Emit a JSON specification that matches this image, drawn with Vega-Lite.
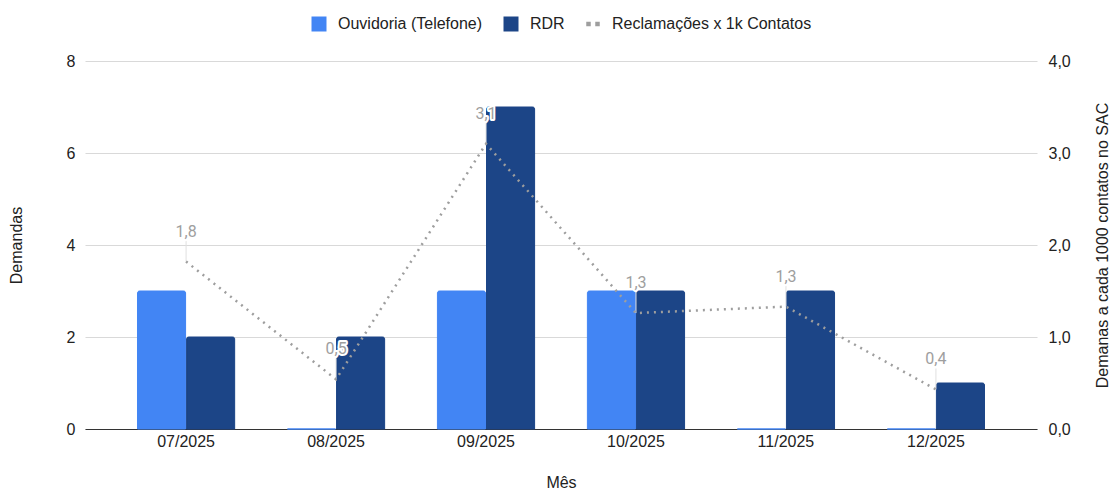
{
  "$schema": "https://vega.github.io/schema/vega-lite/v6.json",
  "width": 952,
  "height": 368,
  "autosize": "none",
  "padding": {"left": 85, "top": 61, "right": 77, "bottom": 61},
  "background": "white",
  "config": {
    "locale": {"number": {"decimal": ",", "thousands": ".", "grouping": [3], "currency": ["R$ ", ""]}},
    "font": "Liberation Sans",
    "view": {"stroke": null},
    "axis": {"labelFont": "Liberation Sans", "titleFont": "Liberation Sans", "labelColor": "#222", "titleColor": "#222", "titleFontWeight": "normal", "labelFontSize": 16, "titleFontSize": 16}
  },
  "datasets": {
    "bars": [
      {"mes": "07/2025", "serie": "Ouvidoria (Telefone)", "valor": 3},
      {"mes": "07/2025", "serie": "RDR", "valor": 2},
      {"mes": "08/2025", "serie": "Ouvidoria (Telefone)", "valor": 0},
      {"mes": "08/2025", "serie": "RDR", "valor": 2},
      {"mes": "09/2025", "serie": "Ouvidoria (Telefone)", "valor": 3},
      {"mes": "09/2025", "serie": "RDR", "valor": 7},
      {"mes": "10/2025", "serie": "Ouvidoria (Telefone)", "valor": 3},
      {"mes": "10/2025", "serie": "RDR", "valor": 3},
      {"mes": "11/2025", "serie": "Ouvidoria (Telefone)", "valor": 0},
      {"mes": "11/2025", "serie": "RDR", "valor": 3},
      {"mes": "12/2025", "serie": "Ouvidoria (Telefone)", "valor": 0},
      {"mes": "12/2025", "serie": "RDR", "valor": 1}
    ],
    "taxa": [
      {"mes": "07/2025", "taxa": 1.82},
      {"mes": "08/2025", "taxa": 0.54},
      {"mes": "09/2025", "taxa": 3.1},
      {"mes": "10/2025", "taxa": 1.26},
      {"mes": "11/2025", "taxa": 1.33},
      {"mes": "12/2025", "taxa": 0.43}
    ]
  },
  "encoding": {
    "x": {
      "field": "mes",
      "type": "nominal",
      "sort": null,
      "scale": {"paddingInner": 0.352, "paddingOuter": 0.35},
      "axis": {"title": "Mês", "labelAngle": 0, "ticks": false, "domainColor": "#333", "domainWidth": 1, "labelPadding": 4, "titlePadding": 25, "grid": false}
    }
  },
  "layer": [
    {
      "data": {"name": "bars"},
      "mark": {"type": "bar", "cornerRadiusTopLeft": 2, "cornerRadiusTopRight": 2, "strokeWidth": 1},
      "encoding": {
        "xOffset": {"field": "serie", "type": "nominal", "scale": {"paddingInner": 0.02}},
        "y": {
          "field": "valor",
          "type": "quantitative",
          "scale": {"domain": [0, 8], "nice": false},
          "axis": {"title": "Demandas", "values": [0, 2, 4, 6, 8], "domain": false, "ticks": false, "labelPadding": 10, "titlePadding": 42, "gridColor": "#d9d9d9"}
        },
        "color": {
          "field": "serie",
          "type": "nominal",
          "scale": {"domain": ["Ouvidoria (Telefone)", "RDR", "Reclamações x 1k Contatos"], "range": ["#4285f4", "#1c4587", "#9e9e9e"]},
          "legend": {
            "title": null,
            "orient": "none",
            "legendX": 226,
            "legendY": -45,
            "direction": "horizontal",
            "symbolType": "square",
            "symbolSize": 225,
            "symbolStrokeWidth": 0,
            "symbolOpacity": 1,
            "labelFontSize": 16,
            "labelLimit": 400,
            "labelColor": "#222",
            "columnPadding": 20,
            "labelOffset": 11,
            "encode": {
              "symbols": {
                "update": {
                  "shape": {"signal": "datum.value === 'Reclamações x 1k Contatos' ? 'M-0.9,-0.3H-0.3V0.3H-0.9Z M0.3,-0.3H0.9V0.3H0.3Z' : 'square'"},
                  "fill": {"signal": "datum.value === 'Reclamações x 1k Contatos' ? '#9e9e9e' : (datum.value === 'RDR' ? '#1c4587' : '#4285f4')"},
                  "strokeWidth": {"value": 0}
                }
              }
            }
          }
        },
        "stroke": {
          "field": "serie",
          "type": "nominal",
          "scale": {"domain": ["Ouvidoria (Telefone)", "RDR"], "range": ["#4285f4", "#1c4587"]},
          "legend": null
        }
      }
    },
    {
      "data": {"name": "taxa"},
      "encoding": {
        "y": {
          "field": "taxa",
          "type": "quantitative",
          "scale": {"domain": [0, 4], "nice": false},
          "axis": {"title": "Demanas a cada 1000 contatos no SAC", "orient": "right", "titleAngle": 270, "format": ".1f", "values": [0, 1, 2, 3, 4], "domain": false, "ticks": false, "grid": false, "labelPadding": 11, "titlePadding": 40}
        }
      },
      "layer": [
        {
          "mark": {"type": "rule", "color": "#e0e0e0", "strokeWidth": 1, "y2Offset": -21},
          "encoding": {"y2": {"field": "taxa"}}
        },
        {
          "mark": {"type": "line", "strokeWidth": 2.5, "strokeDash": [2, 5], "strokeCap": "butt"},
          "encoding": {"color": {"datum": "Reclamações x 1k Contatos"}}
        },
        {
          "mark": {"type": "text", "dy": -30, "font": "Roboto", "fontSize": 16, "color": "white", "stroke": "white", "strokeWidth": 4, "strokeJoin": "round"},
          "encoding": {"text": {"field": "taxa", "type": "quantitative", "format": ".1f"}}
        },
        {
          "mark": {"type": "text", "dy": -30, "font": "Roboto", "fontSize": 16, "color": "#9e9e9e"},
          "encoding": {"text": {"field": "taxa", "type": "quantitative", "format": ".1f"}}
        }
      ]
    }
  ],
  "resolve": {"scale": {"y": "independent", "stroke": "independent"}}
}
